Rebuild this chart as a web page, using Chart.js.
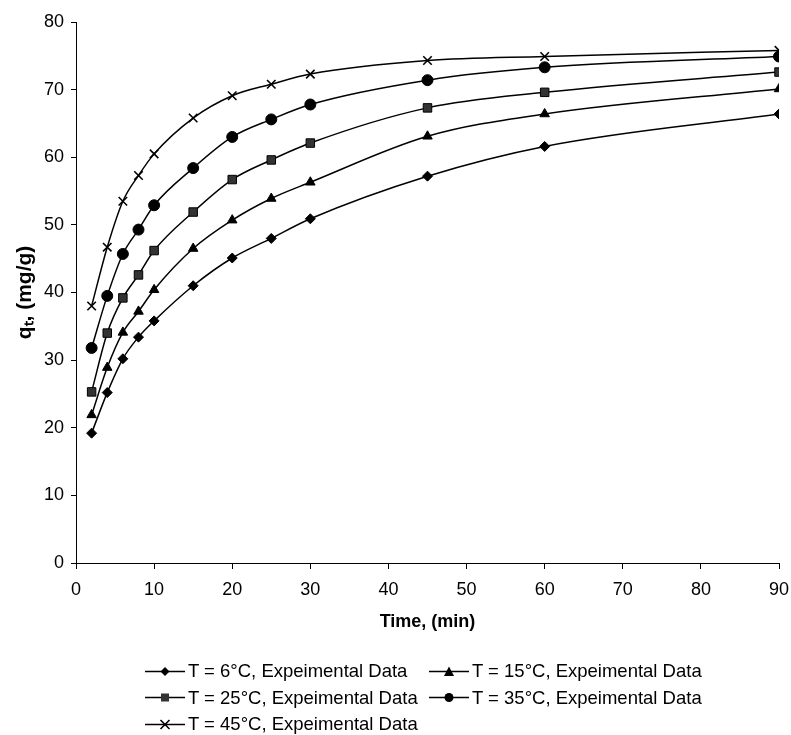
<!DOCTYPE html>
<html>
<head>
<meta charset="utf-8">
<script src="https://cdn.jsdelivr.net/npm/chart.js@4.4.0/dist/chart.umd.min.js"></script>
<style>
  html, body { margin: 0; padding: 0; background: #fff; }
  #wrap { position: relative; width: 791px; height: 735px; }
  #legend { position: absolute; left: 145px; top: 658px; font-family: "Liberation Sans", Arial, sans-serif; font-size: 18.5px; color: #000; }
  .row { height: 26.5px; display: flex; align-items: center; white-space: nowrap; }
  .item { display: flex; align-items: center; }
  .item svg { margin-right: 3px; }
  .c1 { width: 284px; }
</style>
</head>
<body>
<div id="wrap">
  <canvas id="kinetics" width="791" height="735"></canvas>
  <div id="legend"></div>
</div>
<script>
const times = [2, 4, 6, 8, 10, 15, 20, 25, 30, 45, 60, 90];
const labels = ['T = 6°C, Expeimental Data', 'T = 15°C, Expeimental Data', 'T = 25°C, Expeimental Data', 'T = 35°C, Expeimental Data', 'T = 45°C, Expeimental Data'];
const q6 = [19.2, 25.2, 30.2, 33.4, 35.8, 41.0, 45.1, 48.0, 50.9, 57.2, 61.6, 66.4];
const q15 = [21.9, 28.9, 34.1, 37.2, 40.4, 46.5, 50.7, 53.9, 56.3, 63.1, 66.4, 70.1];
const q25 = [25.3, 34.0, 39.2, 42.6, 46.2, 51.9, 56.7, 59.6, 62.1, 67.3, 69.6, 72.6];
const q35 = [31.8, 39.5, 45.7, 49.3, 52.9, 58.4, 63.0, 65.6, 67.8, 71.4, 73.3, 74.9];
const q45 = [38.0, 46.7, 53.5, 57.3, 60.5, 65.8, 69.1, 70.8, 72.3, 74.3, 74.9, 75.8];
const yTicks = [0, 10, 20, 30, 40, 50, 60, 70, 80];

const series = [q6, q15, q25, q35, q45];
const shapes = ['rectRot', 'triangle', 'rect', 'circle', 'crossRot'];
const fills = ['#000', '#000', '#333', '#000', '#000'];
const sizes = [5, 5.5, 6, 5.5, 6];

const font = '"Liberation Sans", Arial, sans-serif';

const datasets = series.map((vals, i) => ({
  label: labels[i],
  data: vals.map((v, j) => ({ x: times[j], y: v })),
  borderColor: '#000',
  borderWidth: 1.5,
  pointStyle: shapes[i],
  pointRadius: sizes[i],
  pointBackgroundColor: fills[i],
  pointBorderColor: '#000',
  pointBorderWidth: i === 4 ? 1.6 : 1,
  cubicInterpolationMode: 'monotone',
  fill: false
}));

new Chart(document.getElementById('kinetics'), {
  type: 'line',
  data: { datasets },
  options: {
    responsive: false,
    animation: false,
    layout: { padding: { left: 0, right: 0, top: 22, bottom: 100 } },
    plugins: { legend: { display: false }, tooltip: { enabled: false } },
    scales: {
      x: {
        type: 'linear', min: 0, max: 90,
        ticks: { stepSize: 10, color: '#000', font: { family: font, size: 18 }, padding: 10, maxRotation: 0 },
        grid: { drawOnChartArea: false, tickLength: 6, color: '#000' },
        border: { color: '#000', width: 1 },
        title: { display: true, text: 'Time, (min)', color: '#000', font: { family: font, size: 18, weight: 'bold' }, padding: { top: 4, bottom: 2 } },
        afterFit: s => { s.height = 72; s.paddingRight = 12; }
      },
      y: {
        type: 'linear', min: 0, max: 80,
        afterBuildTicks: s => { s.ticks = yTicks.map(v => ({ value: v })); },
        ticks: { color: '#000', font: { family: font, size: 18 }, padding: 7 },
        grid: { drawOnChartArea: false, tickLength: 5, color: '#000' },
        border: { color: '#000', width: 1 },
        title: { display: true, text: 'qₜ, (mg/g)', color: '#000', font: { family: font, size: 21, weight: 'bold' }, padding: { top: 13, bottom: 4 } },
        afterFit: s => { s.width = 76; }
      }
    }
  }
});

// legend laid out like the original: two columns, three rows
function icon(i) {
  const s = shapes[i], c = fills[i];
  let m = '';
  if (s === 'rectRot') m = '<polygon points="20,2 24.5,6.5 20,11 15.5,6.5" fill="' + c + '"/>';
  if (s === 'triangle') m = '<polygon points="20,1.5 25,11 15,11" fill="' + c + '"/>';
  if (s === 'rect') m = '<rect x="16" y="2.5" width="8" height="8" fill="' + c + '"/>';
  if (s === 'circle') m = '<circle cx="20" cy="6.5" r="4.5" fill="' + c + '"/>';
  if (s === 'crossRot') m = '<path d="M15.5,2 L24.5,11 M24.5,2 L15.5,11" stroke="#000" stroke-width="1.6"/>';
  return '<svg width="40" height="13"><line x1="0" y1="6.5" x2="40" y2="6.5" stroke="#000" stroke-width="1.5"/>' + m + '</svg>';
}
const rows = [[0, 1], [2, 3], [4]];
document.getElementById('legend').innerHTML = rows.map(r =>
  '<div class="row">' + r.map((i, k) =>
    '<div class="item' + (k === 0 ? ' c1' : '') + '">' + icon(i) + '<span>' + labels[i] + '</span></div>'
  ).join('') + '</div>'
).join('');
</script>
</body>
</html>
